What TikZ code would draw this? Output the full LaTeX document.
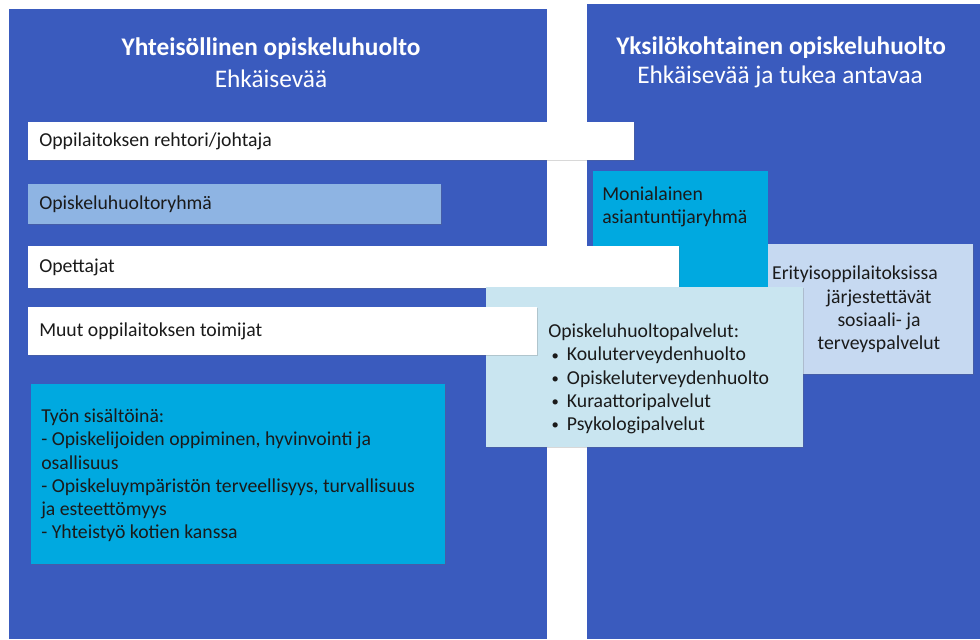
\documentclass[tikz,border=0pt]{standalone}
\usepackage{fontspec}
\setmainfont{Carlito}
\usetikzlibrary{shadows}
\definecolor{panelblue}{HTML}{3A5BBE}
\definecolor{lightbar}{HTML}{8EB4E3}
\definecolor{cyanbox}{HTML}{00A9E0}
\definecolor{lavbox}{HTML}{C6D9F1}
\definecolor{palbox}{HTML}{C9E5F0}
\definecolor{txt}{HTML}{1A1A1A}
\newcommand{\mybul}{\hspace*{2.5pt}\makebox[11.5pt][l]{\raisebox{0.5pt}{\fontsize{11}{11}\selectfont\textbullet}}}
\begin{document}
\begin{tikzpicture}[x=0.75pt,y=-0.75pt,
  panel/.style={fill=panelblue},
  boxsh/.style={drop shadow={shadow xshift=1pt,shadow yshift=-1pt,opacity=0.25,fill=black!60}},
  titletxt/.style={text=white,font=\fontsize{19}{23}\selectfont,align=center,inner sep=0pt},
  bodytxt/.style={text=txt,font=\fontsize{14.8}{17.4}\selectfont,inner sep=0pt,anchor=west}]
\fill[white] (0,0) rectangle (980,639);
\useasboundingbox (0,0) rectangle (980,639);
% panels
\fill[panel] (9,9) rectangle (547,639);
\fill[panel] (587,4) rectangle (980,639);
\node[titletxt] (t1) at (271,49) {\bfseries Yhteisöllinen opiskeluhuolto};
\node[titletxt] (s1) at (271,79) {Ehkäisevää};
\node[titletxt] (t2) at (781,48) {\bfseries Yksilökohtainen opiskeluhuolto};
\node[titletxt] (s2) at (780,77) {Ehkäisevää ja tukea antavaa};
% bars
\fill[white,boxsh] (28,122) rectangle (634,160);
\node[bodytxt] (rehtori) at (39,141) {Oppilaitoksen rehtori/johtaja};
\fill[lightbar,boxsh] (28,184) rectangle (441,224);
\node[bodytxt] (ryhma) at (39,204) {Opiskeluhuoltoryhmä};
\fill[cyanbox] (593,171) rectangle (768,290);
\node[bodytxt,align=left] (moni) at (602,206.5) {Monialainen\\asiantuntijaryhmä};
\fill[white,boxsh] (28,246) rectangle (679,288);
\node[bodytxt] (opettajat) at (39,267) {Opettajat};
\fill[lavbox,boxsh] (768,244) rectangle (973,374);
\node[bodytxt,anchor=center,align=center] (erit) at (879,309.5) {Erityisoppilaitoksissa\hspace*{36pt}\\järjestettävät\\sosiaali- ja\\terveyspalvelut};
\fill[palbox,boxsh] (486,287) rectangle (803,447);
\node[bodytxt,align=left] (pal) at (548,379) {Opiskeluhuoltopalvelut:\\
\mybul Kouluterveydenhuolto\\
\mybul Opiskeluterveydenhuolto\\
\mybul Kuraattoripalvelut\\
\mybul Psykologipalvelut};
\fill[white,boxsh] (28,307) rectangle (537,355);
\node[bodytxt] (muut) at (39,331) {Muut oppilaitoksen toimijat};
\fill[cyanbox,boxsh] (31,384) rectangle (445,564);
\node[bodytxt,align=left] (tyon) at (41,475.5) {Työn sisältöinä:\\
- Opiskelijoiden oppiminen, hyvinvointi ja\\
osallisuus\\
- Opiskeluympäristön terveellisyys, turvallisuus\\
ja esteettömyys\\
- Yhteistyö kotien kanssa};
\end{tikzpicture}
\end{document}
